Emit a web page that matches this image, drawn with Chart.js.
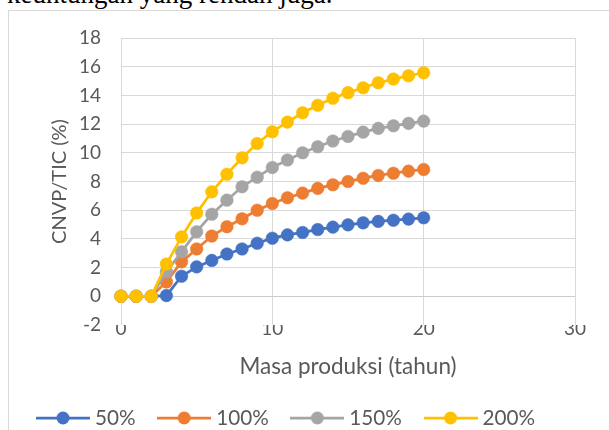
<!DOCTYPE html>
<html><head><meta charset="utf-8">
<script src="https://cdn.jsdelivr.net/npm/chart.js@4.4.0/dist/chart.umd.min.js"></script>
<style>
html,body{margin:0;padding:0;background:#fff;width:609px;height:430px;overflow:hidden;position:relative}
#frame{position:absolute;left:8px;top:10px;width:700px;height:500px;border:1px solid #d9d9d9;box-sizing:border-box}
#above{position:absolute;left:7px;top:-18.6px;font-family:"Liberation Serif";font-size:27px;line-height:27px;color:#000;white-space:nowrap}
#c{position:absolute;left:0;top:0}
</style></head><body>
<div id="above">keuntungan yang rendah juga.</div>
<div id="frame"></div>
<canvas id="c" width="609" height="430"></canvas>
<script>
const years = [0,1,2,3,4,5,6,7,8,9,10,11,12,13,14,15,16,17,18,19,20];
const s50  = [0,0,0,0.05,1.4,2.05,2.5,2.95,3.3,3.7,4.05,4.28,4.45,4.65,4.82,4.98,5.12,5.22,5.3,5.38,5.47];
const s100 = [0,0,0,1.0,2.4,3.3,4.2,4.85,5.4,6.0,6.47,6.87,7.19,7.52,7.77,8.0,8.23,8.42,8.58,8.72,8.84];
const s150 = [0,0,0,1.7,3.1,4.5,5.72,6.7,7.63,8.3,8.98,9.5,10.0,10.42,10.82,11.14,11.44,11.7,11.88,12.05,12.21];
const s200 = [0,0,0,2.25,4.14,5.81,7.28,8.51,9.65,10.65,11.47,12.14,12.79,13.31,13.8,14.19,14.53,14.88,15.14,15.37,15.58];
const seriesNames = ['50%','100%','150%','200%'];
const seriesColors = ['#4472C4','#ED7D31','#A5A5A5','#FFC000'];
const seriesValues = [s50, s100, s150, s200];
const xTickValues = [0,10,20,30];
const yTickValues = [-2,0,2,4,6,8,10,12,14,16,18];

const FONT = 'Lato';
const TXT = '#595959';

function legendIcon(color){
  const cv = document.createElement('canvas');
  cv.width = 54; cv.height = 16;
  const g = cv.getContext('2d');
  g.strokeStyle = color; g.lineWidth = 2.75;
  g.beginPath(); g.moveTo(0,8); g.lineTo(54,8); g.stroke();
  g.fillStyle = color;
  g.beginPath(); g.arc(27,8,6.5,0,Math.PI*2); g.fill();
  return cv;
}
const icons = seriesColors.map(legendIcon);

const datasets = seriesValues.map((vals, i) => ({
  label: seriesNames[i],
  data: years.map((x, j) => ({x: x, y: vals[j]})),
  borderColor: seriesColors[i],
  backgroundColor: seriesColors[i],
  borderWidth: 2.75,
  pointRadius: 6.3,
  pointBorderWidth: 0.5,
  pointBackgroundColor: seriesColors[i],
  pointBorderColor: seriesColors[i],
  tension: 0,
  clip: false,
  order: 4 - i
}));

new Chart(document.getElementById('c'), {
  type: 'line',
  data: { datasets },
  options: {
    responsive: false,
    animation: false,
    devicePixelRatio: 1,
    layout: { padding: { left: 14.4, right: 34, top: 38, bottom: 0 } },
    plugins: {
      tooltip: { enabled: false },
      legend: {
        position: 'bottom',
        align: 'start',
        maxHeight: 49.3,
        labels: {
          usePointStyle: true,
          pointStyleWidth: 43.3,
          padding: 26.95,
          color: TXT,
          font: { family: FONT, size: 20.7 },
          generateLabels: (chart) => {
            const items = Chart.defaults.plugins.legend.labels.generateLabels(chart);
            items.forEach(it => { it.pointStyle = icons[it.datasetIndex]; it.fontColor = TXT; });
            return items;
          },
          sort: (a, b) => a.datasetIndex - b.datasetIndex
        }
      }
    },
    scales: {
      x: {
        type: 'linear',
        min: 0, max: 30,
        afterBuildTicks: (s) => { s.ticks = xTickValues.map(v => ({value: v})); },
        afterFit: (s) => { s.height = 55.7; },
        grid: { color: '#d9d9d9', lineWidth: 1, drawTicks: false },
        border: { display: false },
        ticks: { padding: -8, maxRotation: 0, color: TXT, font: { family: FONT, size: 19 } },
        title: { display: true, text: 'Masa produksi (tahun)', color: TXT, font: { family: FONT, size: 22.5 }, padding: { top: 0, bottom: 0 } }
      },
      y: {
        min: -2, max: 18,
        afterBuildTicks: (s) => { s.ticks = yTickValues.map(v => ({value: v})); },
        afterFit: (s) => { s.width = 106.6; },
        grid: {
          drawTicks: false,
          lineWidth: 1,
          color: (c) => (c.tick && c.tick.value === -2) ? 'rgba(0,0,0,0)' : (c.tick && c.tick.value === 0 ? '#cccccc' : '#d9d9d9')
        },
        border: { display: false },
        ticks: { padding: 20, color: TXT, font: { family: FONT, size: 19 } },
        title: { display: true, text: 'CNVP/TIC (%)', color: TXT, font: { family: FONT, size: 20 }, padding: { top: 33, bottom: 0 } }
      }
    }
  }
});
</script>
</body></html>
